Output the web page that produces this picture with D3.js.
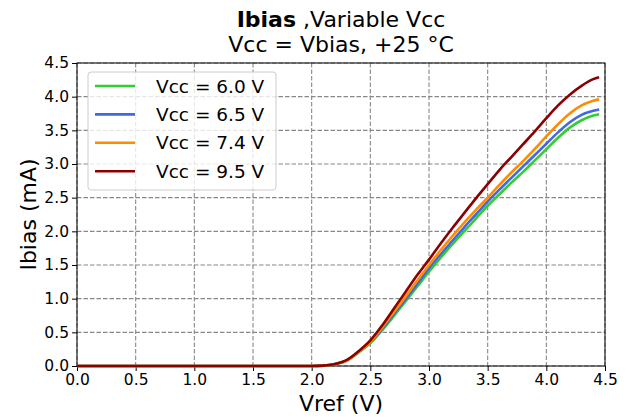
<!DOCTYPE html>
<html>
<head>
<meta charset="utf-8">
<script src="https://cdn.jsdelivr.net/npm/d3@7"></script>
<style>
  body { margin: 0; background: #fff; }
  text { font-family: "DejaVu Sans", sans-serif; fill: #000; }
</style>
</head>
<body>
<div id="chart"></div>
<script>
const vref = [0, 0.5, 1.0, 1.5, 2.0, 2.1, 2.2, 2.3, 2.4, 2.5, 2.6, 2.7, 2.8, 2.9, 3.0,
  3.1, 3.2, 3.3, 3.4, 3.5, 3.6, 3.7, 3.8, 3.9, 4.0, 4.1, 4.2, 4.3, 4.4, 4.45];

const vcc60 = [0, 0, 0, 0, 0, 0.005, 0.03, 0.08, 0.2, 0.34, 0.53, 0.74, 0.96, 1.18, 1.4,
  1.61, 1.81, 2.0, 2.19, 2.38, 2.55, 2.72, 2.88, 3.05, 3.22, 3.39, 3.54, 3.65, 3.72, 3.74];
const vcc65 = [0, 0, 0, 0, 0, 0.005, 0.03, 0.08, 0.21, 0.35, 0.55, 0.77, 0.99, 1.22, 1.45,
  1.66, 1.86, 2.06, 2.25, 2.44, 2.62, 2.79, 2.96, 3.13, 3.3, 3.47, 3.62, 3.73, 3.79, 3.81];
const vcc74 = [0, 0, 0, 0, 0, 0.005, 0.03, 0.08, 0.21, 0.36, 0.57, 0.8, 1.03, 1.27, 1.5,
  1.72, 1.93, 2.13, 2.32, 2.5, 2.69, 2.87, 3.04, 3.22, 3.41, 3.59, 3.75, 3.87, 3.94, 3.96];
const vcc95 = [0, 0, 0, 0, 0, 0.005, 0.03, 0.09, 0.22, 0.38, 0.6, 0.85, 1.1, 1.35, 1.58,
  1.82, 2.05, 2.27, 2.49, 2.7, 2.91, 3.1, 3.29, 3.48, 3.68, 3.87, 4.03, 4.16, 4.26, 4.29];

const seriesNames = ["Vcc = 6.0 V", "Vcc = 6.5 V", "Vcc = 7.4 V", "Vcc = 9.5 V"];
const seriesColors = ["#32cd32", "#4169e1", "#ff8c00", "#8b0000"];
const ticks = [0, 0.5, 1.0, 1.5, 2.0, 2.5, 3.0, 3.5, 4.0, 4.5];

const series = [vcc60, vcc65, vcc74, vcc95].map((vals, i) => ({
  name: seriesNames[i],
  color: seriesColors[i],
  points: vals.map((v, j) => [vref[j], v]),
}));

const width = 630, height = 417;
const margin = { left: 77, right: 25, top: 63, bottom: 51 };
const w = width - margin.left - margin.right;
const h = height - margin.top - margin.bottom;

const svg = d3.select("#chart").append("svg")
  .attr("width", width)
  .attr("height", height);

const x = d3.scaleLinear().domain([0, 4.5]).range([0, w]);
const y = d3.scaleLinear().domain([0, 4.5]).range([h, 0]);

const g = svg.append("g").attr("transform", `translate(${margin.left},${margin.top})`);

// grid
g.append("g").selectAll("line").data(ticks).enter().append("line")
  .attr("x1", d => x(d)).attr("x2", d => x(d))
  .attr("y1", 0).attr("y2", h)
  .attr("stroke", "#888").attr("stroke-width", 1.1).attr("stroke-dasharray", "4.5,2");
g.append("g").selectAll("line").data(ticks).enter().append("line")
  .attr("y1", d => y(d)).attr("y2", d => y(d))
  .attr("x1", 0).attr("x2", w)
  .attr("stroke", "#888").attr("stroke-width", 1.1).attr("stroke-dasharray", "4.5,2");

// axes
const fmt = d3.format(".1f");
const xAxis = g.append("g").attr("transform", `translate(0,${h})`)
  .call(d3.axisBottom(x).tickValues(ticks).tickFormat(fmt).tickSize(5).tickPadding(3));
const yAxis = g.append("g")
  .call(d3.axisLeft(y).tickValues(ticks).tickFormat(fmt).tickSize(5).tickPadding(3));
[xAxis, yAxis].forEach(a => {
  a.select(".domain").remove();
  a.selectAll("text").attr("font-size", 15.5).attr("font-family", "DejaVu Sans");
  a.selectAll("line").attr("stroke", "#000");
});

// frame
g.append("rect").attr("width", w).attr("height", h)
  .attr("fill", "none").attr("stroke", "#000").attr("stroke-width", 1);

// lines
const line = d3.line().x(d => x(d[0])).y(d => y(d[1])).curve(d3.curveMonotoneX);
g.append("g").selectAll("path").data(series).enter().append("path")
  .attr("d", d => line(d.points))
  .attr("fill", "none")
  .attr("stroke", d => d.color)
  .attr("stroke-width", 2.6)
  .attr("stroke-linejoin", "round");

// legend
const legend = g.append("g").attr("transform", "translate(11,9)");
legend.append("rect")
  .attr("width", 188).attr("height", 118).attr("rx", 3)
  .attr("fill", "#fff").attr("fill-opacity", 0.8)
  .attr("stroke", "#ccc").attr("stroke-width", 1);
const items = legend.selectAll("g.item").data(series).enter().append("g")
  .attr("class", "item")
  .attr("transform", (d, i) => `translate(0,${14 + i * 28.4})`);
items.append("line")
  .attr("x1", 7).attr("x2", 47).attr("y1", 0).attr("y2", 0)
  .attr("stroke", d => d.color).attr("stroke-width", 2.6);
items.append("text")
  .attr("x", 68).attr("y", 6.5)
  .attr("font-size", 18.5)
  .text(d => d.name);

// titles
const title = svg.append("text")
  .attr("x", margin.left + w / 2).attr("y", 27)
  .attr("text-anchor", "middle").attr("font-size", 22);
title.append("tspan").attr("font-weight", "bold").text("Ibias");
title.append("tspan").text(" ,Variable Vcc");
svg.append("text")
  .attr("x", margin.left + w / 2).attr("y", 52)
  .attr("text-anchor", "middle").attr("font-size", 22)
  .text("Vcc = Vbias, +25 °C");

svg.append("text")
  .attr("x", margin.left + w / 2).attr("y", 411)
  .attr("text-anchor", "middle").attr("font-size", 22)
  .text("Vref (V)");
svg.append("text")
  .attr("transform", `translate(36,${margin.top + h / 2}) rotate(-90)`)
  .attr("text-anchor", "middle").attr("font-size", 22)
  .text("Ibias (mA)");
</script>
</body>
</html>
